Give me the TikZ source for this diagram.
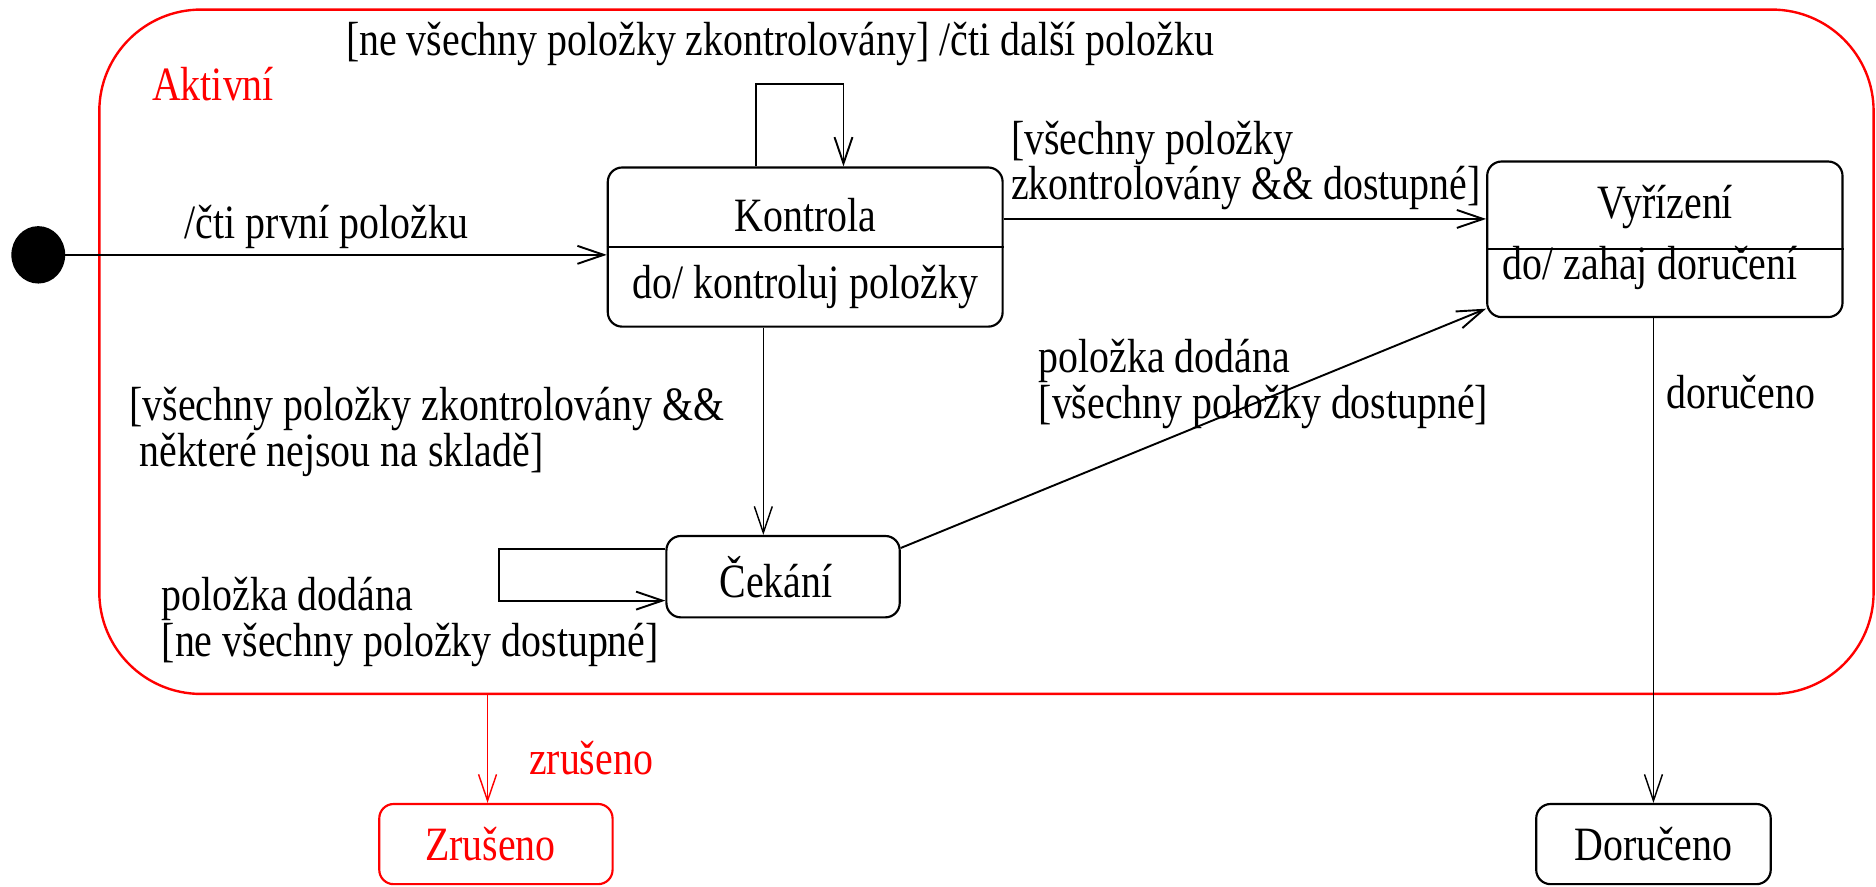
\documentclass[tikz,border=0pt]{standalone}
\usepackage{fontspec}
\setmainfont[FakeStretch=0.833]{Liberation Serif}
\usetikzlibrary{arrows.meta,shapes.geometric}
\definecolor{frred}{RGB}{255,0,0}
\begin{document}
\begin{tikzpicture}[x=1pt,y=-1pt,
  font=\fontsize{40}{38}\selectfont,
  statebox/.style={draw, line width=1.8pt, rounded corners=12pt, inner sep=0pt},
  lbl/.style={inner sep=0pt, align=left, anchor=west},
  arr/.style={line width=1.6pt, -{Straight Barb[length=22pt,width=15pt,line width=1.6pt]}},
  thinarr/.style={line width=1.2pt, -{Straight Barb[length=22pt,width=15pt,line width=1.2pt]}},
]
\useasboundingbox (0,0) rectangle (1568,741);
% composite state
\node[draw=frred, line width=2pt, rounded corners=85pt, minimum width=1483pt, minimum height=572pt, inner sep=0pt] (akt) at (824.5,294) {};
\node[lbl, text=frred] (aktlbl) at (127,70) {Aktivní};
% initial
\node[ellipse, fill=black, minimum width=45pt, minimum height=48pt, inner sep=0pt] (init) at (32,213) {};
% states
\node[statebox, minimum width=330pt, minimum height=133pt] (kon) at (673,206.5) {};
\draw[line width=1.8pt] (kon.west) -- (kon.east);
\node[inner sep=0pt] (kont) at (673,180) {Kontrola};
\node[inner sep=0pt] (kond) at (673,240) {do/ kontroluj položky};

\node[statebox, minimum width=297pt, minimum height=130pt] (vyr) at (1391.5,200) {};
\draw[line width=1.5pt] ([yshift=-8pt]vyr.west) -- ([yshift=-8pt]vyr.east);
\node[inner sep=0pt] (vyrt) at (1392,173) {Vyřízení};
\node[lbl] (vyrd) at (1256,224) {do/ zahaj doručení};

\node[statebox, minimum width=195pt, minimum height=68pt] (cek) at (654.5,482) {\hspace*{-12pt}Čekání};
\node[statebox, minimum width=196pt, minimum height=67pt] (dor) at (1382,705.5) {Doručeno};
\node[statebox, draw=frred, text=frred, minimum width=195pt, minimum height=67pt] (zru) at (414.5,705.5) {\hspace*{-9pt}Zrušeno};

% transitions
\draw[arr] (init) -- (init -| kon.west);
\node[inner sep=0pt] (l1) at (273,190) {/čti první položku};

\coordinate (k1) at (632,70);
\coordinate (k2) at (705,70);
\draw[arr] (k1 |- kon.north) -- (k1) -- (k2) -- (k2 |- kon.north);
\node[inner sep=0pt] (l2) at (652,37) {[ne všechny položky zkontrolovány] /čti další položku};

\draw[arr] ([yshift=23.5pt]kon.east) -- ([yshift=23.5pt]kon.east -| vyr.west);
\node[lbl] (l3) at (845,138.5) {[všechny položky\\zkontrolovány \&\& dostupné]};

\draw[thinarr] ([xshift=-35pt]kon.south) -- ([xshift=-35pt]kon.south |- cek.north);
\node[lbl] (l4) at (108,361) {[všechny položky zkontrolovány \&\&\\\ některé nejsou na skladě]};

\coordinate (c1) at (417,459);
\coordinate (c2) at (417,502);
\draw[arr] (c1 -| cek.west) -- (c1) -- (c2) -- (c2 -| cek.west);
\node[lbl] (l5) at (135,520) {položka dodána\\{}[ne všechny položky dostupné]};

\draw[arr] ([yshift=24pt]cek.east) -- ([yshift=-58pt]vyr.west);
\node[lbl] (l6) at (868,321) {položka dodána\\{}[všechny položky dostupné]};

\draw[thinarr] (dor.north |- vyr.south) -- (dor.north);
\node[lbl] (l7) at (1393,328) {doručeno};

\draw[thinarr, draw=frred] ([xshift=-7pt]zru.north |- akt.south) -- ([xshift=-7pt]zru.north);
\node[lbl, text=frred] (l8) at (442,634) {zrušeno};
\end{tikzpicture}
\end{document}
